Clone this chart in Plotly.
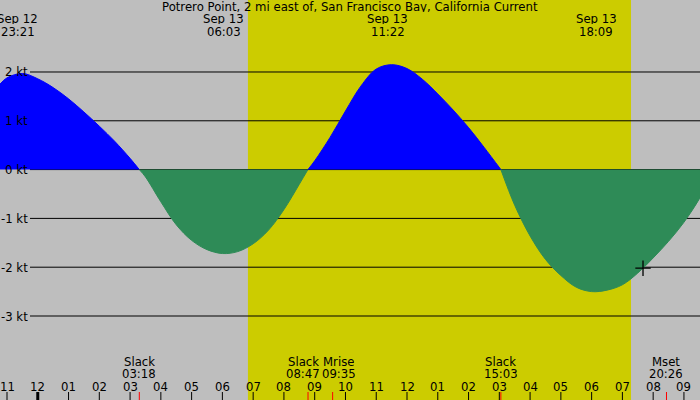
import plotly.graph_objects as go

# hours counted from Sep 12 00:00, current in knots (+ flood, - ebb)
hours = [22.77, 23.0, 23.5, 24.0, 24.5, 25.0, 25.5, 26.0, 26.5, 27.0, 27.30,
         27.5, 28.0, 28.5, 29.0, 29.5, 30.0, 30.5, 31.0, 31.5, 32.0, 32.5, 32.78,
         33.0, 33.5, 34.0, 34.5, 35.0, 35.5, 36.0, 36.5, 37.0, 37.5, 38.0, 38.5, 39.05,
         39.5, 40.0, 40.5, 41.0, 41.5, 42.0, 42.5, 43.0, 43.5, 44.0, 44.5, 45.0, 45.5, 46.0]
speed_kt = [1.75, 1.88, 1.97, 1.86, 1.68, 1.45, 1.18, 0.89, 0.58, 0.23, 0.0,
            -0.15, -0.66, -1.13, -1.45, -1.64, -1.72, -1.68, -1.52, -1.24, -0.82, -0.30, 0.0,
            0.18, 0.66, 1.20, 1.71, 2.06, 2.15, 2.07, 1.85, 1.55, 1.22, 0.86, 0.46, 0.0,
            -0.73, -1.36, -1.84, -2.17, -2.41, -2.50, -2.47, -2.36, -2.12, -1.81, -1.47, -1.08, -0.60, 0.0]

# max current events (top labels)
peak_hours = [23.35, 30.05, 35.367, 42.15]
peak_dates = ["Sep 12", "Sep 13", "Sep 13", "Sep 13"]
peak_times = ["23:21", "06:03", "11:22", "18:09"]

# slack and moon events (bottom labels)
event_hours = [27.30, 32.783, 33.583, 39.05, 44.433, 46.00]
event_names = ["Slack", "Slack", "Mrise", "Slack", "Mset", "Slack"]
event_times = ["03:18", "08:47", "09:35", "15:03", "20:26", "22:00"]

tick_hours = list(range(23, 46))
tick_labels = ["11", "12", "01", "02", "03", "04", "05", "06", "07", "08", "09", "10",
               "11", "12", "01", "02", "03", "04", "05", "06", "07", "08", "09"]

grid_kt = [2, 1, 0, -1, -2, -3]

sunrise, sunset = 30.83, 43.28
now_hour, now_kt = 43.67, -2.02

title = "Potrero Point, 2 mi east of, San Francisco Bay, California Current"

FONT = "DejaVu Sans"
X_RANGE = [22.7725, 45.522]
Y_RANGE = [-4.721, 3.475]


def split_segments(xs, ys):
    segs = []
    cur_x, cur_y = [], []
    for x, y in zip(xs, ys):
        cur_x.append(x)
        cur_y.append(y)
        if y == 0 and len(cur_x) > 1:
            segs.append((cur_x, cur_y))
            cur_x, cur_y = [x], [y]
    if len(cur_x) > 1:
        segs.append((cur_x, cur_y))
    return segs


fig = go.Figure()

for xs, ys in split_segments(hours, speed_kt):
    color = "#0000FF" if sum(ys) > 0 else "#2E8B57"
    fig.add_trace(go.Scatter(
        x=xs, y=ys, mode="lines",
        line=dict(color=color, width=1, shape="spline", smoothing=1),
        fill="tozeroy", fillcolor=color, hoverinfo="skip"
    ))

fig.add_trace(go.Scatter(
    x=[now_hour], y=[now_kt], mode="markers",
    marker=dict(symbol="cross-thin", size=11, line=dict(color="black", width=1.3)),
    hoverinfo="skip"
))

shapes = [dict(type="rect", xref="x", yref="paper", x0=sunrise, x1=sunset, y0=0, y1=1,
               fillcolor="#CCCC00", line=dict(width=0), layer="below")]
for v in grid_kt:
    shapes.append(dict(type="line", xref="paper", yref="y", x0=30 / 700, x1=1, y0=v, y1=v,
                       line=dict(color="black", width=1), layer="below"))
for h, lab in zip(tick_hours, tick_labels):
    w = 3 if h == 24 else 1
    shapes.append(dict(type="line", xref="x", yref="paper", x0=h, x1=h, y0=0, y1=0.02,
                       line=dict(color="black", width=w)))
for h in event_hours:
    shapes.append(dict(type="line", xref="x", yref="paper", x0=h, x1=h, y0=0, y1=0.02,
                       line=dict(color="red", width=1)))

annotations = []


def txt(x, y, s, xref="x", yref="paper", xanchor="center", xshift=0):
    annotations.append(dict(x=x, y=y, xref=xref, yref=yref, text=s, showarrow=False,
                            xanchor=xanchor, yanchor="middle", xshift=xshift,
                            height=11, borderpad=0,
                            font=dict(family=FONT, size=11.7, color="black")))


txt(0.5, 1 - 7 / 400, title, xref="paper")
for h, d, t in zip(peak_hours, peak_dates, peak_times):
    txt(h, 1 - 19 / 400, d)
    txt(h, 1 - 31 / 400, t)

# Slack 08:47 and Mrise 09:35 sit close together, push them apart
label_nudge = {1: -5, 2: 6}
for i, (h, n, t) in enumerate(zip(event_hours, event_names, event_times)):
    dx = label_nudge.get(i, 0)
    txt(h, 1 - 361 / 400, n, xshift=dx)
    txt(h, 1 - 373 / 400, t, xshift=dx)

for h, lab in zip(tick_hours, tick_labels):
    txt(h, 1 - 386 / 400, lab)

for v in grid_kt:
    txt(29 / 700, v, f"{v} kt", xref="paper", yref="y", xanchor="right")

fig.update_layout(
    width=700, height=400,
    margin=dict(l=0, r=0, t=0, b=0),
    paper_bgcolor="#BEBEBE", plot_bgcolor="#BEBEBE",
    showlegend=False,
    xaxis=dict(range=X_RANGE, visible=False, fixedrange=True),
    yaxis=dict(range=Y_RANGE, visible=False, fixedrange=True),
    shapes=shapes,
    annotations=annotations,
)

fig.write_html("out.html", config={"displayModeBar": False},
               post_script="document.body.style.margin='0';document.body.style.overflow='hidden';")
